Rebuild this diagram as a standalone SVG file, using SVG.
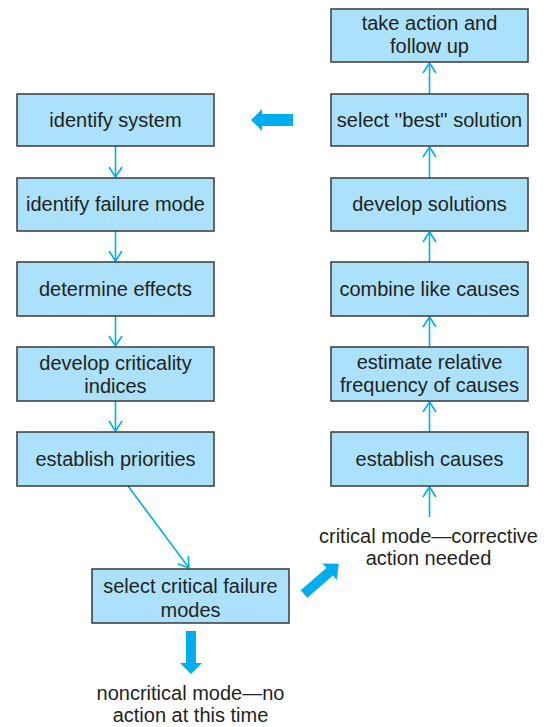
<svg xmlns="http://www.w3.org/2000/svg" width="553" height="727" viewBox="0 0 553 727">
<style>
.box{fill:#abe1fa;stroke:#3a3a3a;stroke-width:1.5}
.t{font-family:"Liberation Sans",Arial,sans-serif;font-size:20px;fill:#231f20;text-anchor:middle}
.c{fill:none;stroke:#00aeef;stroke-width:1.6}
.big{fill:#00aeef}
</style>
<defs>
<marker id="v" markerUnits="userSpaceOnUse" viewBox="-12 -8 14 16" refX="0" refY="0" markerWidth="14" markerHeight="16" orient="auto">
<path d="M-10,-6.5 L0,0 L-10,6.5" fill="none" stroke="#00aeef" stroke-width="1.6"/>
</marker>
</defs>
<rect width="553" height="727" fill="#fff"/>
<g id="connectors">
<path class="c" d="M115.5,146 V177" marker-end="url(#v)"/>
<path class="c" d="M115.5,231 V261" marker-end="url(#v)"/>
<path class="c" d="M115.5,316 V346" marker-end="url(#v)"/>
<path class="c" d="M115.5,401 V431" marker-end="url(#v)"/>
<path class="c" d="M128,486 L189,568" marker-end="url(#v)"/>
<path class="c" d="M429.5,517 V487" marker-end="url(#v)"/>
<path class="c" d="M429.5,432 V402" marker-end="url(#v)"/>
<path class="c" d="M429.5,347 V317" marker-end="url(#v)"/>
<path class="c" d="M429.5,262 V232" marker-end="url(#v)"/>
<path class="c" d="M429.5,178 V147" marker-end="url(#v)"/>
<path class="c" d="M429.5,94 V63" marker-end="url(#v)"/>
<polygon class="big" points="293,114 262,114 262,109 251,120 262,131 262,126 293,126"/>
<polygon class="big" points="186,631 196,631 196,663 202,663 191,674 180,663 186,663"/>
<polygon class="big" transform="translate(304,594) rotate(-41)" points="0,-5 34,-5 34,-11 46,0 34,11 34,5 0,5"/>
</g>
<g id="identify-system"><rect class="box" x="17" y="94" width="197" height="52"/><text class="t" x="115.5" y="127">identify system</text></g>
<g id="identify-failure-mode"><rect class="box" x="17" y="178" width="197" height="53"/><text class="t" x="115.5" y="211">identify failure mode</text></g>
<g id="determine-effects"><rect class="box" x="17" y="262" width="197" height="54"/><text class="t" x="115.5" y="296">determine effects</text></g>
<g id="develop-criticality"><rect class="box" x="17" y="347" width="197" height="54"/><text class="t" x="115.5" y="370">develop criticality</text><text class="t" x="115.5" y="393">indices</text></g>
<g id="establish-priorities"><rect class="box" x="17" y="432" width="197" height="54"/><text class="t" x="115.5" y="466">establish priorities</text></g>
<g id="select-critical"><rect class="box" x="92" y="569" width="197" height="54"/><text class="t" x="190.5" y="593">select critical failure</text><text class="t" x="190.5" y="617">modes</text></g>
<g id="take-action"><rect class="box" x="331" y="9" width="197" height="53"/><text class="t" x="429.5" y="30">take action and</text><text class="t" x="429.5" y="53">follow up</text></g>
<g id="select-best"><rect class="box" x="331" y="94" width="197" height="52"/><text class="t" x="429.5" y="127">select ''best'' solution</text></g>
<g id="develop-solutions"><rect class="box" x="331" y="178" width="197" height="53"/><text class="t" x="429.5" y="211">develop solutions</text></g>
<g id="combine-like-causes"><rect class="box" x="331" y="262" width="197" height="54"/><text class="t" x="429.5" y="296">combine like causes</text></g>
<g id="estimate-frequency"><rect class="box" x="331" y="347" width="197" height="54"/><text class="t" x="429.5" y="369">estimate relative</text><text class="t" x="429.5" y="392">frequency of causes</text></g>
<g id="establish-causes"><rect class="box" x="331" y="432" width="197" height="54"/><text class="t" x="429.5" y="466">establish causes</text></g>
<g id="critical-mode"><text class="t" x="428.5" y="543">critical mode—corrective</text><text class="t" x="428.5" y="565">action needed</text></g>
<g id="noncritical-mode"><text class="t" x="190.5" y="700">noncritical mode—no</text><text class="t" x="190.5" y="722">action at this time</text></g>
</svg>
